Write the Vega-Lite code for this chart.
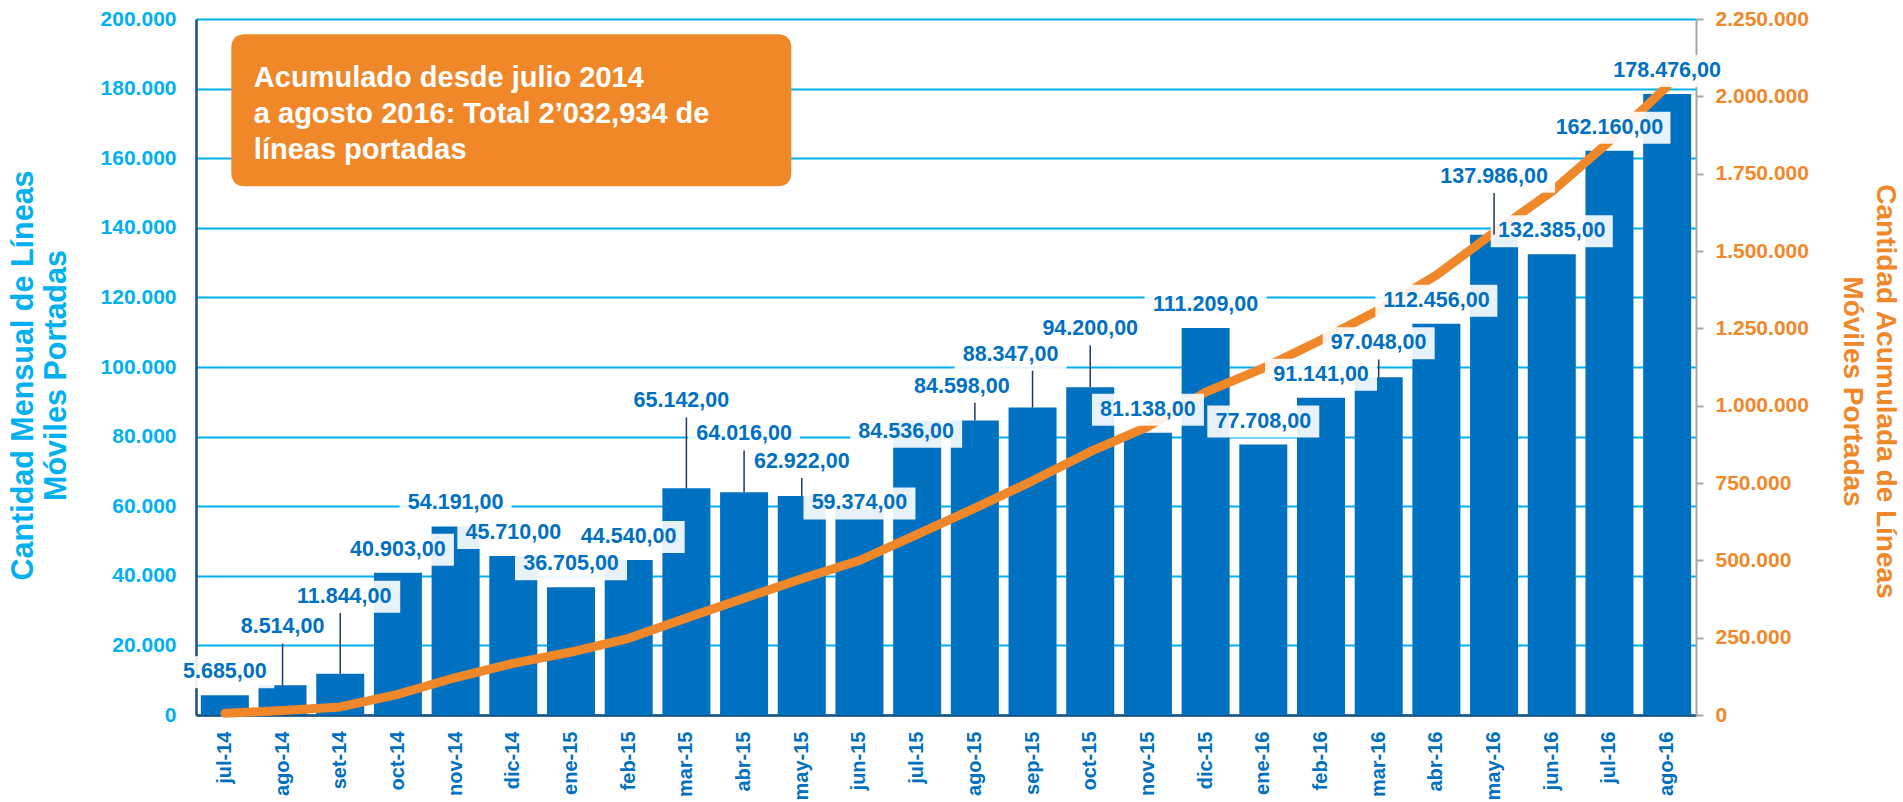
{
  "$schema": "https://vega.github.io/schema/vega-lite/v6.json",
  "width": 1500,
  "height": 696,
  "autosize": "none",
  "padding": {"left": 196, "top": 19, "right": 207, "bottom": 87},
  "background": "white",
  "config": {
    "locale": {"number": {"decimal": ",", "thousands": ".", "grouping": [3], "currency": ["", ""]}},
    "view": {"stroke": null}
  },
  "data": {"values": [
    {"mes": "jul-14", "mensual": 5685, "acumulado": 5685},
    {"mes": "ago-14", "mensual": 8514, "acumulado": 14199},
    {"mes": "set-14", "mensual": 11844, "acumulado": 26043},
    {"mes": "oct-14", "mensual": 40903, "acumulado": 66946},
    {"mes": "nov-14", "mensual": 54191, "acumulado": 121137},
    {"mes": "dic-14", "mensual": 45710, "acumulado": 166847},
    {"mes": "ene-15", "mensual": 36705, "acumulado": 203552},
    {"mes": "feb-15", "mensual": 44540, "acumulado": 248092},
    {"mes": "mar-15", "mensual": 65142, "acumulado": 313234},
    {"mes": "abr-15", "mensual": 64016, "acumulado": 377250},
    {"mes": "may-15", "mensual": 62922, "acumulado": 440172},
    {"mes": "jun-15", "mensual": 59374, "acumulado": 499546},
    {"mes": "jul-15", "mensual": 84536, "acumulado": 584082},
    {"mes": "ago-15", "mensual": 84598, "acumulado": 668680},
    {"mes": "sep-15", "mensual": 88347, "acumulado": 757027},
    {"mes": "oct-15", "mensual": 94200, "acumulado": 851227},
    {"mes": "nov-15", "mensual": 81138, "acumulado": 932365},
    {"mes": "dic-15", "mensual": 111209, "acumulado": 1043574},
    {"mes": "ene-16", "mensual": 77708, "acumulado": 1121282},
    {"mes": "feb-16", "mensual": 91141, "acumulado": 1212423},
    {"mes": "mar-16", "mensual": 97048, "acumulado": 1309471},
    {"mes": "abr-16", "mensual": 112456, "acumulado": 1421927},
    {"mes": "may-16", "mensual": 137986, "acumulado": 1559913},
    {"mes": "jun-16", "mensual": 132385, "acumulado": 1692298},
    {"mes": "jul-16", "mensual": 162160, "acumulado": 1854458},
    {"mes": "ago-16", "mensual": 178476, "acumulado": 2032934}
  ]},
  "encoding": {
    "x": {
      "field": "mes", "type": "nominal", "sort": null,
      "scale": {
        "domain": ["jul-14","ago-14","set-14","oct-14","nov-14","dic-14","ene-15","feb-15","mar-15","abr-15","may-15","jun-15","jul-15","ago-15","sep-15","oct-15","nov-15","dic-15","ene-16","feb-16","mar-16","abr-16","may-16","jun-16","jul-16","ago-16"],
        "paddingInner": 0.168, "paddingOuter": 0.084
      },
      "axis": {
        "title": null, "labelAngle": -90, "labelColor": "#0070C0", "labelFont": "Liberation Sans",
        "labelFontWeight": "bold", "labelFontSize": 20, "labelPadding": 16, "ticks": false, "tickSize": 0,
        "domainColor": "#1F4E79", "domainWidth": 2.5, "grid": false
      }
    }
  },
  "layer": [
    {
      "mark": {"type": "bar", "color": "#0070C0"},
      "encoding": {
        "y": {
          "field": "mensual", "type": "quantitative",
          "scale": {"domain": [0, 200000], "nice": false},
          "axis": {
            "orient": "left",
            "values": [0, 20000, 40000, 60000, 80000, 100000, 120000, 140000, 160000, 180000, 200000],
            "format": ",d", "grid": true, "gridColor": "#00B0F0", "gridWidth": 2,
            "ticks": false, "tickSize": 0, "domainColor": "#1F4E79", "domainWidth": 2.5,
            "labelColor": "#00B0F0", "labelFont": "Liberation Sans", "labelFontWeight": "bold",
            "labelFontSize": 21, "labelPadding": 20,
            "title": ["Cantidad Mensual de Líneas", "Móviles Portadas"],
            "titleColor": "#00B0F0", "titleFont": "Liberation Sans", "titleFontWeight": "bold",
            "titleFontSize": 30.5, "titleLineHeight": 33, "titleAngle": -90,
            "titleAlign": "center", "titleBaseline": "middle", "titleX": -173, "titleY": 356
          }
        }
      }
    },
    {
      "mark": {"type": "line", "color": "#F0882A", "strokeWidth": 9, "strokeCap": "round", "strokeJoin": "round"},
      "encoding": {
        "y": {
          "field": "acumulado", "type": "quantitative",
          "scale": {"domain": [0, 2250000], "nice": false},
          "axis": {
            "orient": "right",
            "values": [0, 250000, 500000, 750000, 1000000, 1250000, 1500000, 1750000, 2000000, 2250000],
            "format": ",d", "grid": false, "ticks": true, "tickColor": "#A6A6A6", "tickSize": 7, "tickWidth": 2,
            "domainColor": "#A6A6A6", "domainWidth": 2,
            "labelColor": "#F0882A", "labelFont": "Liberation Sans", "labelFontWeight": "bold",
            "labelFontSize": 21, "labelPadding": 12,
            "title": ["Cantidad Acumulada de Líneas", "Móviles Portadas"],
            "titleColor": "#F0882A", "titleFont": "Liberation Sans", "titleFontWeight": "bold",
            "titleFontSize": 28, "titleLineHeight": 33, "titleAngle": 90,
            "titleAlign": "center", "titleBaseline": "middle", "titleX": 188, "titleY": 372
          }
        }
      }
    },
    {
      "encoding": {
        "y": {"field": "mensual", "type": "quantitative", "scale": {"domain": [0, 200000], "nice": false}, "axis": null}
      },
      "layer": [
        {
          "transform": [{"filter": {"field": "mes", "oneOf": ["jul-14","oct-14","nov-14","dic-14","ene-15","feb-15","nov-15","dic-15","ene-16","feb-16","abr-16","jun-16","jul-16","ago-16"]}}],
          "layer": [
            {"mark": {"type": "point", "filled": true, "fill": "white", "opacity": 0.9, "strokeWidth": 0, "size": 14884, "yOffset": -23},
             "encoding": {"shape": {"condition": [{"test": "datum.mensual >= 100000", "value": "M-1,-0.2623L1,-0.2623L1,0.2623L-1,0.2623Z"}, {"test": "datum.mensual < 10000", "value": "M-0.811,-0.2623L0.811,-0.2623L0.811,0.2623L-0.811,0.2623Z"}], "value": "M-0.918,-0.2623L0.918,-0.2623L0.918,0.2623L-0.918,0.2623Z"}}},
            {"mark": {"type": "text", "font": "Liberation Sans", "fontWeight": "bold", "fontSize": 21.5, "color": "#0070C0", "align": "center", "baseline": "middle", "yOffset": -23},
             "encoding": {"text": {"field": "mensual", "type": "quantitative", "format": ",.2f"}}}
          ]
        },
        {
          "transform": [{"filter": {"field": "mes", "oneOf": ["may-15","mar-16"]}}],
          "layer": [
            {"mark": {"type": "rule", "color": "#1F3864", "strokeWidth": 1.5, "y2Offset": -18}, "encoding": {"y2": {"field": "mensual"}}},
            {"mark": {"type": "point", "filled": true, "fill": "white", "opacity": 0.9, "strokeWidth": 0, "size": 14884, "yOffset": -34},
             "encoding": {"shape": {"value": "M-0.918,-0.2623L0.918,-0.2623L0.918,0.2623L-0.918,0.2623Z"}}},
            {"mark": {"type": "text", "font": "Liberation Sans", "fontWeight": "bold", "fontSize": 21.5, "color": "#0070C0", "align": "center", "baseline": "middle", "yOffset": -34},
             "encoding": {"text": {"field": "mensual", "type": "quantitative", "format": ",.2f"}}}
          ]
        },
        {
          "transform": [{"filter": {"field": "mes", "oneOf": ["ago-15"]}}],
          "layer": [
            {"mark": {"type": "rule", "color": "#1F3864", "strokeWidth": 1.5, "y2Offset": -18}, "encoding": {"y2": {"field": "mensual"}}},
            {"mark": {"type": "point", "filled": true, "fill": "white", "opacity": 0.9, "strokeWidth": 0, "size": 14884, "yOffset": -34, "xOffset": -13},
             "encoding": {"shape": {"value": "M-0.918,-0.2623L0.918,-0.2623L0.918,0.2623L-0.918,0.2623Z"}}},
            {"mark": {"type": "text", "font": "Liberation Sans", "fontWeight": "bold", "fontSize": 21.5, "color": "#0070C0", "align": "center", "baseline": "middle", "yOffset": -34, "xOffset": -13},
             "encoding": {"text": {"field": "mensual", "type": "quantitative", "format": ",.2f"}}}
          ]
        },
        {
          "transform": [{"filter": {"field": "mes", "oneOf": ["ago-14","abr-15","oct-15","may-16"]}}],
          "layer": [
            {"mark": {"type": "rule", "color": "#1F3864", "strokeWidth": 1.5, "y2Offset": -42}, "encoding": {"y2": {"field": "mensual"}}},
            {"mark": {"type": "point", "filled": true, "fill": "white", "opacity": 0.9, "strokeWidth": 0, "size": 14884, "yOffset": -58},
             "encoding": {"shape": {"condition": [{"test": "datum.mensual >= 100000", "value": "M-1,-0.2623L1,-0.2623L1,0.2623L-1,0.2623Z"}, {"test": "datum.mensual < 10000", "value": "M-0.811,-0.2623L0.811,-0.2623L0.811,0.2623L-0.811,0.2623Z"}], "value": "M-0.918,-0.2623L0.918,-0.2623L0.918,0.2623L-0.918,0.2623Z"}}},
            {"mark": {"type": "text", "font": "Liberation Sans", "fontWeight": "bold", "fontSize": 21.5, "color": "#0070C0", "align": "center", "baseline": "middle", "yOffset": -58},
             "encoding": {"text": {"field": "mensual", "type": "quantitative", "format": ",.2f"}}}
          ]
        },
        {
          "transform": [{"filter": {"field": "mes", "oneOf": ["sep-15"]}}],
          "layer": [
            {"mark": {"type": "rule", "color": "#1F3864", "strokeWidth": 1.5, "y2Offset": -37}, "encoding": {"y2": {"field": "mensual"}}},
            {"mark": {"type": "point", "filled": true, "fill": "white", "opacity": 0.9, "strokeWidth": 0, "size": 14884, "yOffset": -53, "xOffset": -22},
             "encoding": {"shape": {"value": "M-0.918,-0.2623L0.918,-0.2623L0.918,0.2623L-0.918,0.2623Z"}}},
            {"mark": {"type": "text", "font": "Liberation Sans", "fontWeight": "bold", "fontSize": 21.5, "color": "#0070C0", "align": "center", "baseline": "middle", "yOffset": -53, "xOffset": -22},
             "encoding": {"text": {"field": "mensual", "type": "quantitative", "format": ",.2f"}}}
          ]
        },
        {
          "transform": [{"filter": {"field": "mes", "oneOf": ["set-14"]}}],
          "layer": [
            {"mark": {"type": "rule", "color": "#1F3864", "strokeWidth": 1.5, "y2Offset": -61}, "encoding": {"y2": {"field": "mensual"}}},
            {"mark": {"type": "point", "filled": true, "fill": "white", "opacity": 0.9, "strokeWidth": 0, "size": 14884, "yOffset": -77, "xOffset": 4},
             "encoding": {"shape": {"value": "M-0.918,-0.2623L0.918,-0.2623L0.918,0.2623L-0.918,0.2623Z"}}},
            {"mark": {"type": "text", "font": "Liberation Sans", "fontWeight": "bold", "fontSize": 21.5, "color": "#0070C0", "align": "center", "baseline": "middle", "yOffset": -77, "xOffset": 4},
             "encoding": {"text": {"field": "mensual", "type": "quantitative", "format": ",.2f"}}}
          ]
        },
        {
          "transform": [{"filter": {"field": "mes", "oneOf": ["mar-15"]}}],
          "layer": [
            {"mark": {"type": "rule", "color": "#1F3864", "strokeWidth": 1.5, "y2Offset": -71}, "encoding": {"y2": {"field": "mensual"}}},
            {"mark": {"type": "point", "filled": true, "fill": "white", "opacity": 0.9, "strokeWidth": 0, "size": 14884, "yOffset": -87, "xOffset": -5},
             "encoding": {"shape": {"value": "M-0.918,-0.2623L0.918,-0.2623L0.918,0.2623L-0.918,0.2623Z"}}},
            {"mark": {"type": "text", "font": "Liberation Sans", "fontWeight": "bold", "fontSize": 21.5, "color": "#0070C0", "align": "center", "baseline": "middle", "yOffset": -87, "xOffset": -5},
             "encoding": {"text": {"field": "mensual", "type": "quantitative", "format": ",.2f"}}}
          ]
        },
        {
          "transform": [{"filter": {"field": "mes", "oneOf": ["jun-15"]}}],
          "layer": [
            {"mark": {"type": "point", "filled": true, "fill": "white", "opacity": 0.9, "strokeWidth": 0, "size": 14884, "yOffset": -5},
             "encoding": {"shape": {"value": "M-0.918,-0.2623L0.918,-0.2623L0.918,0.2623L-0.918,0.2623Z"}}},
            {"mark": {"type": "text", "font": "Liberation Sans", "fontWeight": "bold", "fontSize": 21.5, "color": "#0070C0", "align": "center", "baseline": "middle", "yOffset": -5},
             "encoding": {"text": {"field": "mensual", "type": "quantitative", "format": ",.2f"}}}
          ]
        },
        {
          "transform": [{"filter": {"field": "mes", "oneOf": ["jul-15"]}}],
          "layer": [
            {"mark": {"type": "point", "filled": true, "fill": "white", "opacity": 0.9, "strokeWidth": 0, "size": 14884, "yOffset": 11, "xOffset": -11},
             "encoding": {"shape": {"value": "M-0.918,-0.2623L0.918,-0.2623L0.918,0.2623L-0.918,0.2623Z"}}},
            {"mark": {"type": "text", "font": "Liberation Sans", "fontWeight": "bold", "fontSize": 21.5, "color": "#0070C0", "align": "center", "baseline": "middle", "yOffset": 11, "xOffset": -11},
             "encoding": {"text": {"field": "mensual", "type": "quantitative", "format": ",.2f"}}}
          ]
        },
        {
          "transform": [{"filter": {"field": "mes", "equal": "dic-14"}}],
          "mark": {"type": "point", "filled": true, "fill": "#F0882A", "opacity": 1, "strokeWidth": 0, "size": 313600, "xOffset": -2,
                   "shape": "M-0.95,-0.2714L0.95,-0.2714Q1,-0.2714 1,-0.2214L1,0.2214Q1,0.2714 0.95,0.2714L-0.95,0.2714Q-1,0.2714 -1,0.2214L-1,-0.2214Q-1,-0.2714 -0.95,-0.2714Z"},
          "encoding": {"y": {"datum": 173800, "type": "quantitative"}}
        },
        {
          "transform": [{"filter": {"field": "mes", "equal": "jul-14"}}],
          "mark": {"type": "text", "font": "Liberation Sans", "fontWeight": "bold", "fontSize": 29, "color": "white", "align": "left", "baseline": "middle", "lineHeight": 36, "xOffset": 29,
                   "text": ["Acumulado desde julio 2014", "a agosto 2016: Total 2’032,934 de", "líneas portadas"]},
          "encoding": {"y": {"datum": 183000, "type": "quantitative"}}
        }
      ]
    }
  ],
  "resolve": {"scale": {"y": "independent"}}
}
